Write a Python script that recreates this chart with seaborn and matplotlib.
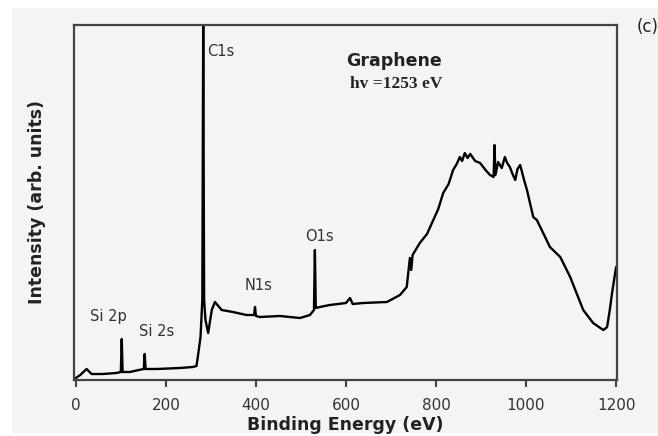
import numpy as np
import pandas as pd
import matplotlib
matplotlib.use("Agg")
import matplotlib.pyplot as plt
from matplotlib.patches import Rectangle
import seaborn as sns

# XPS survey spectrum (arbitrary intensity units)
binding_energy = [0, 10, 24, 35, 60, 90, 100, 102, 104, 120, 140, 151, 153, 155,
                  180, 231, 260, 268, 271, 277, 281, 283, 285, 288, 294, 302, 309,
                  324, 349, 379, 396, 398, 400, 409, 453, 498, 520, 529, 531, 533,
                  542, 564, 600, 609, 615, 638, 691, 720, 735, 742, 745, 748, 764,
                  780, 794, 805, 816, 828, 838, 846, 853, 858, 864, 870, 876, 887,
                  898, 910, 920, 928, 930, 932, 938, 946, 953, 958, 964, 970, 976,
                  981, 987, 995, 1002, 1016, 1024, 1038, 1053, 1076, 1098, 1127,
                  1149, 1165, 1172, 1180, 1186, 1191, 1200]
intensity = [2, 5, 11, 6, 6, 7, 8, 41, 8, 8, 10, 11, 26, 11,
             11, 12, 13, 14, 23, 43, 80, 355, 80, 60, 47, 70, 78,
             70, 68, 65, 65, 73, 64, 63, 64, 62, 65, 70, 130, 72,
             73, 75, 77, 82, 76, 77, 78, 85, 93, 122, 110, 125, 137,
             146, 160, 171, 187, 196, 210, 216, 223, 219, 227, 222, 226, 219,
             217, 210, 205, 203, 235, 205, 218, 212, 223, 217, 213, 206, 200,
             211, 215, 201, 190, 163, 160, 147, 133, 123, 103, 70,
             57, 52, 50, 53, 70, 87, 113]

peak_labels = ["Si 2p", "Si 2s", "C1s", "N1s", "O1s"]
label_x = [31, 140, 291, 376, 509]
label_y = [63, 48, 329, 95, 144]

df = pd.DataFrame({"energy": binding_energy, "intensity": intensity})

sns.set_style("white")
plt.rcParams["font.family"] = ["DejaVu Sans"]

bg = "#f4f4f4"
fig = plt.figure(figsize=(6.58, 4.36), dpi=100, facecolor="white")
fig.patches.append(Rectangle((12 / 658, 3 / 436), 1 - 12 / 658, 1 - 11 / 436,
                             transform=fig.transFigure, facecolor=bg,
                             edgecolor="none", zorder=-10))
ax = fig.add_axes([74 / 658, 56 / 436, 543 / 658, 355 / 436])
ax.set_facecolor(bg)

sns.lineplot(data=df, x="energy", y="intensity", ax=ax, color="black",
             lw=1.7, estimator=None, sort=False)

ax.set_xlim(-4, 1202)
ax.set_ylim(0, 355)
ax.set_xticks([0, 200, 400, 600, 800, 1000, 1200])
ax.set_yticks([])
ax.tick_params(axis="x", direction="out", length=5, width=1.5, color="#444444",
               labelsize=11, labelcolor="#333333", pad=8, bottom=True)
for side in ["left", "right", "top", "bottom"]:
    ax.spines[side].set_color("#444444")
    ax.spines[side].set_linewidth(1.6)

ax.set_xlabel("Binding Energy (eV)", fontsize=12.5, fontweight="bold",
              color="#222222", labelpad=2)
ax.set_ylabel("Intensity (arb. units)", fontsize=12.5, fontweight="bold",
              color="#222222", labelpad=20)

for name, lx, ly in zip(peak_labels, label_x, label_y):
    ax.text(lx, ly, name, fontsize=10.5, color="#333333", ha="left", va="center")

ax.text(0.59, 0.90, "Graphene", transform=ax.transAxes, fontsize=12.5,
        fontweight="bold", color="#222222", ha="center", va="center")
ax.text(0.594, 0.835, "hv =1253 eV", transform=ax.transAxes, fontsize=12.5,
        fontweight="bold", family="Liberation Serif", color="#222222",
        ha="center", va="center")

fig.text(637 / 658, 1 - 27 / 436, "(c)", fontsize=12, color="#222222",
         ha="left", va="center")

fig.savefig("out.png", dpi=100, facecolor="white")
